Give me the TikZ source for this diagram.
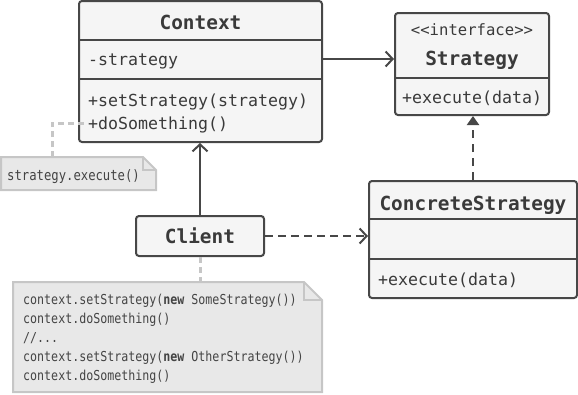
\documentclass[tikz,border=0pt]{standalone}
\usepackage{fontspec}
\setmainfont{DejaVu Sans Mono}[Ligatures=TeXOff]
\newfontfamily\notemono{DejaVu Sans Mono}[FakeStretch=0.85, Ligatures=TeXOff]
\usetikzlibrary{arrows.meta}
\definecolor{boxfill}{HTML}{F5F5F5}
\definecolor{boxline}{HTML}{474747}
\definecolor{txt}{HTML}{3A3A3A}
\definecolor{notefill}{HTML}{E8E8E8}
\definecolor{noteline}{HTML}{C6C6C6}
\definecolor{notetxt}{HTML}{444444}
\begin{document}
\begin{tikzpicture}[x=1pt,y=-1pt,
  umlbox/.style={draw=boxline, fill=boxfill, line width=2pt, rounded corners=3pt, inner sep=0pt},
  sepline/.style={draw=boxline, line width=2pt},
  ttl/.style={anchor=base, inner sep=0pt, text=txt, font=\fontsize{19.4}{22}\selectfont\bfseries},
  stereo/.style={anchor=base, inner sep=0pt, text=txt, font=\fontsize{15.6}{18}\selectfont},
  mem/.style={anchor=base west, inner sep=0pt, text=txt, font=\fontsize{16.6}{20}\selectfont},
  notebox/.style={draw=noteline, fill=notefill, line width=2pt, line join=miter},
  notetext/.style={anchor=base west, inner sep=0pt, text=notetxt, font=\notemono\fontsize{13.7}{19}\selectfont},
  noteconn/.style={draw=noteline, line width=3pt, dash pattern=on 6pt off 4pt},
  assoc/.style={draw=boxline, line width=2pt, -{Straight Barb[length=7pt,width=15pt]}},
  depend/.style={draw=boxline, line width=2pt, dash pattern=on 8pt off 5pt, -{Straight Barb[length=7pt,width=15pt]}},
  realize/.style={draw=boxline, line width=2pt, dash pattern=on 8pt off 6pt, -{Triangle[length=9pt,width=12pt]}}
]
\useasboundingbox (0,0) rectangle (578,394);

% Context
\node[umlbox, minimum width=243pt, minimum height=141pt] (ctx) at (200.5,71.5) {};
\draw[sepline] (ctx.west |- 0,40) -- (ctx.east |- 0,40);
\draw[sepline] (ctx.west |- 0,79) -- (ctx.east |- 0,79);
\node[ttl] (ctxt) at (200.5,29.3) {Context};
\node[mem] (ctxa) at (88,65.5) {-strategy};
\node[mem] (ctxm1) at (88,106) {+setStrategy(strategy)};
\node[mem] (ctxm2) at (88,129) {+doSomething()};

% Strategy
\node[umlbox, minimum width=154pt, minimum height=102pt] (strat) at (472,64) {};
\draw[sepline] (strat.west |- 0,78) -- (strat.east |- 0,78);
\node[stereo] (strs) at (472,35) {<<interface>>};
\node[ttl] (strt) at (472,65) {Strategy};
\node[mem] (strm) at (402,103) {+execute(data)};

% ConcreteStrategy
\node[umlbox, minimum width=208pt, minimum height=117pt] (conc) at (473,239.5) {};
\draw[sepline] (conc.west |- 0,219) -- (conc.east |- 0,219);
\draw[sepline] (conc.west |- 0,259) -- (conc.east |- 0,259);
\node[ttl] (conct) at (473,210) {ConcreteStrategy};
\node[mem] (concm) at (378,285) {+execute(data)};

% Client
\node[umlbox, minimum width=128pt, minimum height=40pt] (client) at (200,236) {};
\node[ttl] (clientt) at (200,243.3) {Client};

% Note 1
\path[notebox] (1,157) -- (143,157) -- (156,170) -- (156,190) -- (1,190) -- cycle;
\draw[draw=noteline, line width=2pt] (143,157) -- (143,170) -- (156,170);
\node[notetext, font=\notemono\fontsize{14.4}{19}\selectfont] (n1) at (7,180) {strategy.execute()};
\coordinate (n1top) at (52,157);
\coordinate (n1end) at (88,123);
\draw[noteconn] (n1top) |- (n1end);

% Note 2
\path[notebox] (13,282) -- (304,282) -- (322,300) -- (322,392) -- (13,392) -- cycle;
\draw[draw=noteline, line width=2pt] (304,282) -- (304,300) -- (322,300);
\node[notetext] (l1) at (23,304) {context.setStrategy(\textbf{new} SomeStrategy())};
\node[notetext] (l2) at (23,323) {context.doSomething()};
\node[notetext] (l3) at (23,342) {//...};
\node[notetext] (l4) at (23,361) {context.setStrategy(\textbf{new} OtherStrategy())};
\node[notetext] (l5) at (23,380) {context.doSomething()};
\coordinate (n2top) at (200,282);
\draw[noteconn] (client.south) -- (n2top);

% Connectors
\draw[assoc] (ctx.east |- 0,59) -- (strat.west |- 0,59);
\draw[assoc] (client.north) -- (client.north |- ctx.south);
\draw[depend] (client.east) -- (conc.west |- client.east);
\draw[realize] (conc.north) -- (conc.north |- strat.south);
\end{tikzpicture}
\end{document}
